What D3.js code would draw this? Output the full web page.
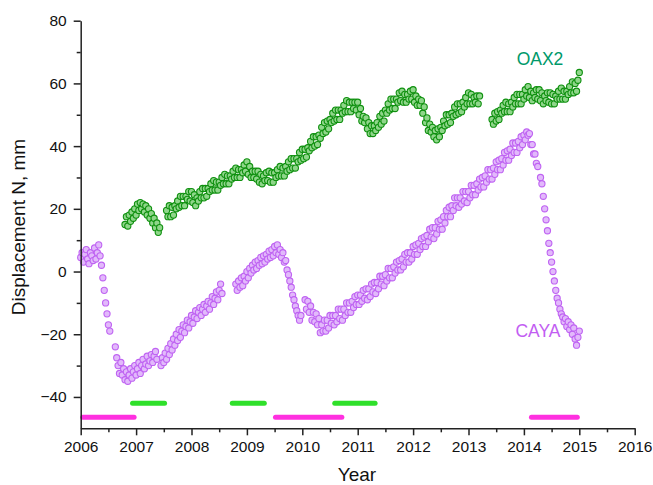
<!DOCTYPE html>
<html>
<head>
<meta charset="utf-8">
<script src="https://cdn.jsdelivr.net/npm/d3@7"></script>
<style>
  body { margin: 0; background: #fff; }
  svg { font-family: "Liberation Sans", Arial, sans-serif; }
</style>
</head>
<body>
<svg></svg>
<script>
var width  = 653,
    height = 485;

// sampling step of the read-off series (years)
var step = 0.025;

// CAYA: segment start years and values (mm)
var cayaStart = [2006.0, 2006.625, 2007.45, 2008.8, 2010.05, 2014.3];
var cayaN = [
  [4.5, 6, 3, 5.5, 7, 4, 2.5, 6, 5, 3.5, 7.5, 4, 6, 8.5, 5, 2, -2, -6, -10, -13.5, -17, -19],
  [-24, -27.5, -30, -32.5, -29, -33, -31, -34.5, -32, -35, -33, -31, -34, -32, -30, -33,
   -31, -29, -32.5, -30, -28, -31, -29.5, -27, -30, -28.5, -26.5, -29, -27, -25.5, -28],
  [-30, -27.5, -29, -26, -28, -24.5, -26.5, -23, -25, -21.5, -23.5, -20, -22, -18.5, -21,
   -19, -17, -19.5, -17.5, -15.5, -18, -16, -14, -16.5, -14.5, -12.5, -15, -13, -11.5, -14,
   -12, -10.5, -13, -11, -9.5, -12, -10, -8, -10.5, -8.5, -6.5, -9, -6, -4, -7],
  [-4, -6, -3, -5, -2, -4.5, -1.5, -3, 0, -2, 1, -0.5, 2, 0.5, 3, 1, 3.5, 2, 4.5, 2.5,
   5, 3, 5.5, 4, 6.5, 4.5, 7, 5, 8, 6, 8.5, 5.5, 7, 4.5, 6, 3, 3.5, 0.5, -1, -3,
   -5, -7.5, -9, -11, -12.5, -14, -15.5, -14],
  [-9, -12, -9.5, -13, -11, -15.5, -13, -16, -13.5, -17, -15, -19.5, -17, -19, -15.5, -19,
   -15.5, -18, -14, -16.5, -14, -17, -14, -16, -12, -15, -12, -15.5, -12, -14, -10, -13,
   -10, -13, -9.5, -11.5, -8, -10.5,
   -7.5, -10.5, -7.5, -9.5, -6, -8.5, -5.5, -9, -5.5, -8, -4, -6.5, -3.5, -7, -3.5, -5.5,
   -1.5, -4, -1.5, -4.5, -1, -3, 1, -2, 1, -2, 1.5, -0.5, 3, 0.5, 3.5, 0.5, 4, 1.5,
   5.5, 3, 6, 3, 6, 4,
   8, 5.5, 8.5, 5.5, 9, 7, 10.5, 8, 11, 8, 11.5, 9.5, 13.5, 11, 14, 10.5, 14, 12, 16, 13.5,
   16.5, 13.5, 17.5, 15.5, 19.5, 17.5, 20.5, 17.5, 21, 19.5, 23.5, 21, 23.5, 20.5, 23.5, 21.5,
   25.5, 22.5, 25.5, 22,
   25.5, 23.5, 27.5, 24.5, 27.5, 24.5, 28, 26, 29.5, 27, 30, 27, 30.5, 28.5, 32.5, 29.5,
   32.5, 29.5, 33, 31, 35, 32.5, 35.5, 32.5, 36, 34, 38, 35.5, 38.5, 35.5, 39, 37, 41, 38,
   41, 38, 41.5, 39.5, 43, 40.5,
   43.5, 42, 44.5, 43.5, 44, 40.5, 40.5, 37.5, 37.5, 34.5, 33.5],
  [30, 28, 24, 20, 16.5, 13, 9, 6, 3, 0, -3, -6, -8.5, -10, -12, -13.5, -14.5, -16, -15,
   -17.5, -16, -18.5, -17, -20, -18, -21.5, -23.5, -21, -19]
];

// OAX2: segment start years and values (mm)
var oaxStart = [2006.8, 2007.55, 2013.425];
var oaxN = [
  [15, 17.5, 14.5, 18, 16, 19, 17, 20, 18, 21.5, 19.5, 22, 20, 21.5, 19, 21, 18, 20, 17,
   18.5, 15.5, 17, 14, 15.5, 12.5, 14],
  [19.5, 17.5, 21, 17.5, 20.5, 18, 21, 20, 22.5, 20.5, 24, 21, 24, 21, 24, 23, 25.5, 22.5,
   25.5, 22, 24.5, 21, 23.5, 22.5, 25.5, 23.5, 26.5, 23.5, 26.5, 24, 26.5, 25.5, 28, 26,
   29, 26, 28.5, 26, 28.5, 27.5, 30, 28, 31, 28, 30.5, 28, 30.5, 29.5, 32, 30, 33, 30,
   32.5, 30, 32.5, 31.5, 34, 32,
   35, 31, 33.5, 30, 32, 30, 32, 29.5, 32, 28.5, 31, 28, 30.5, 29, 31.5, 29, 32, 28.5,
   31.5, 28.5, 31.5, 30, 32.5, 30.5, 33.5, 30.5, 33, 30.5, 33.5, 32, 35, 32.5, 36, 33,
   36, 33, 36, 35, 38, 35.5,
   39, 36, 39, 36.5, 39.5, 38.5, 41.5, 39.5, 43, 40, 43, 40.5, 43.5, 42.5, 46, 44, 47.5,
   44.5, 48, 45.5, 48.5, 47.5, 50.5, 48, 51.5, 48.5, 51.5, 48.5, 51.5, 50.5, 53, 51, 54.5,
   51, 54, 51, 54, 52, 54, 51.5,
   54, 50, 52, 48, 49.5, 47.5, 49, 45.5, 47.5, 44, 46.5, 44, 46.5, 45, 47.5, 46, 49.5, 47,
   50.5, 48, 51.5, 50.5, 53.5, 51.5, 55, 52, 55, 52, 55, 54, 57, 54.5, 57.5, 54, 56.5,
   54, 56.5, 55, 57.5, 55,
   58, 54, 56, 53, 55, 53, 54.5, 50.5, 52.5, 47.5, 49, 45, 47, 44.5, 46, 43, 45, 42,
   45.5, 43, 46, 45, 48, 46.5, 50, 47, 50, 47.5, 50.5, 49.5, 52.5, 50, 53.5, 50.5, 53.5,
   51, 54, 52.5, 55.5, 53.5,
   57, 53.5, 56.5, 53.5, 55.5, 54, 56, 53.5, 56],
  [48.5, 47, 50.5, 48, 51, 48.5, 51.5, 50.5, 53, 51, 54, 51, 53.5, 51, 54, 52.5, 55.5,
   53.5, 56.5, 53.5, 56.5, 53.5, 56.5,
   55, 58, 56, 59, 55.5, 57.5, 54.5, 57, 55.5, 58, 55, 58, 54.5, 57, 53.5, 56, 54.5, 57,
   54, 57, 53.5, 56.5, 53.5, 56, 55, 57.5, 55, 58.5, 55, 57.5, 55, 57.5, 56.5, 59, 57,
   60.5, 57, 60, 57.5, 61,
   63.5]
];

// observation periods drawn as bars under the series
var oaxBars  = [[2006.9, 2007.55], [2008.7, 2009.35], [2010.55, 2011.35]];
var cayaBars = [[2006.0, 2007.0], [2009.48, 2010.75], [2014.1, 2015.0]];
var oaxBarY  = -42,
    cayaBarY = -46.5;

var xTicks = d3.range(2006, 2017, 1);
var yTicks = [-40, -20, 0, 20, 40, 60, 80];

function toPoints(starts, segs) {
  var pts = [];
  segs.forEach(function(seg, k) {
    seg.forEach(function(v, i) {
      pts.push([starts[k] + i * step, v]);
    });
  });
  return pts;
}

var x = d3.scaleLinear().domain([2006, 2016]).range([80.7, 634.7]);
var y = d3.scaleLinear().domain([-50, 80]).range([428.3, 20.7]);

var svg = d3.select('svg')
  .attr("width", width)
  .attr("height", height);

// bars
function drawBars(bars, yv, color) {
  svg.append("g").selectAll("line")
    .data(bars)
    .enter()
      .append("line")
      .attr("x1", function(d){return x(d[0]) + 2;})
      .attr("x2", function(d){return x(d[1]) - 2;})
      .attr("y1", y(yv))
      .attr("y2", y(yv))
      .attr("stroke", color)
      .attr("stroke-width", 5)
      .attr("stroke-linecap", "round");
}
drawBars(oaxBars, oaxBarY, "#2fe02a");
drawBars(cayaBars, cayaBarY, "#ff30e0");

// series
function drawSeries(pts, stroke, fill) {
  var g = svg.append("g");
  g.selectAll("circle")
    .data(pts)
    .enter()
      .append("circle")
      .attr("r", 3.1)
      .attr("cx", function(d){return x(d[0]);})
      .attr("cy", function(d){return y(d[1]);})
      .attr("fill", fill)
      .attr("stroke", stroke)
      .attr("stroke-width", 1.1);
}
drawSeries(toPoints(oaxStart, oaxN), "#0f900f", "#8fd68a");
drawSeries(toPoints(cayaStart, cayaN), "#bf63f2", "#e2b9fb");

// axes
svg.append("g")
  .attr("transform", "translate(0," + y(-50) + ")")
  .call(d3.axisBottom(x).tickValues(xTicks).tickFormat(d3.format("d")).tickSize(7).tickSizeOuter(0).tickPadding(6));
svg.append("g")
  .attr("transform", "translate(0," + y(-50) + ")")
  .call(d3.axisBottom(x).tickValues(d3.range(2006.5, 2016, 1)).tickFormat("").tickSize(4).tickSizeOuter(0))
  .select(".domain").remove();

svg.append("g")
  .attr("transform", "translate(" + x(2006) + ",0)")
  .call(d3.axisLeft(y).tickValues(yTicks).tickSize(7).tickSizeOuter(0).tickPadding(7));
svg.append("g")
  .attr("transform", "translate(" + x(2006) + ",0)")
  .call(d3.axisLeft(y).tickValues([-30, -10, 10, 30, 50, 70]).tickFormat("").tickSize(4).tickSizeOuter(0))
  .select(".domain").remove();

svg.selectAll(".domain, .tick line").attr("stroke", "#222").attr("stroke-width", 1.5);
svg.selectAll(".tick text").attr("font-size", 15.5).attr("fill", "#111")
  .attr("font-family", "'Liberation Sans', Arial, sans-serif");

svg.append("text")
  .attr("x", 357).attr("y", 481)
  .attr("text-anchor", "middle")
  .attr("font-size", 19).attr("fill", "#111")
  .text("Year");

svg.append("text")
  .attr("transform", "translate(25,227) rotate(-90)")
  .attr("text-anchor", "middle")
  .attr("font-size", 19).attr("fill", "#111")
  .text("Displacement N, mm");

svg.append("text")
  .attr("x", 540).attr("y", 65)
  .attr("text-anchor", "middle")
  .attr("font-size", 17.5).attr("fill", "#00996a")
  .text("OAX2");

svg.append("text")
  .attr("x", 538).attr("y", 337)
  .attr("text-anchor", "middle")
  .attr("font-size", 17.5).attr("fill", "#c25ef2")
  .text("CAYA");
</script>
</body>
</html>
